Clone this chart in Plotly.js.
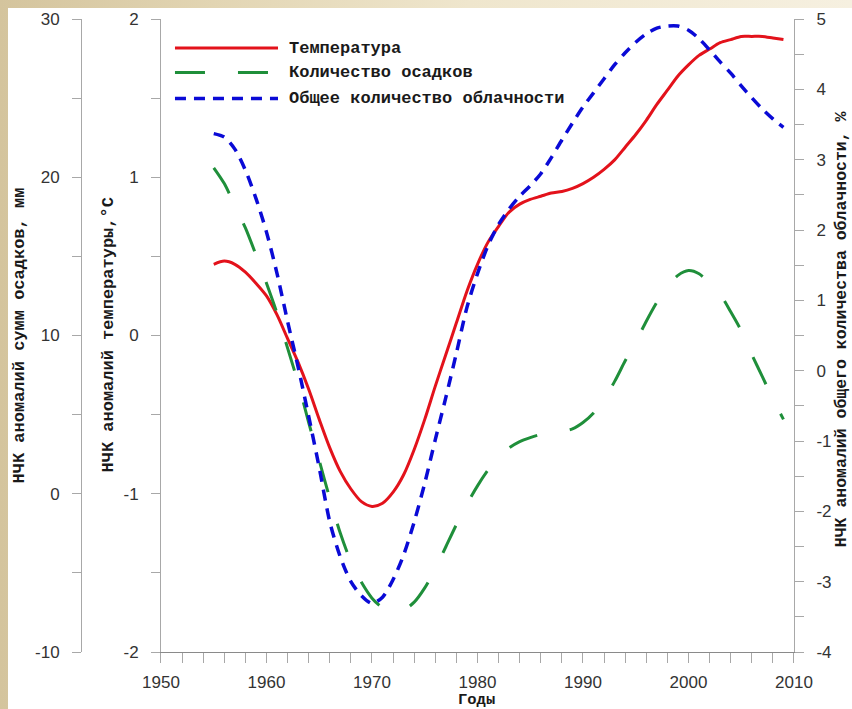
<!DOCTYPE html>
<html><head><meta charset="utf-8">
<script src="https://cdn.plot.ly/plotly-3.0.1.min.js"></script>
<style>
html,body{margin:0;padding:0;width:852px;height:709px;overflow:hidden;}
body{background:linear-gradient(to right,#d4c49d 0%,#e2d5b3 25%,#efe6cd 55%,#f6f0e0 100%);}
#chart{position:absolute;left:8px;top:8px;width:844px;height:701px;background:#fff;}
</style></head><body><div id="chart"></div>
<script>
const years = [1955,1956,1957,1958,1959,1960,1961,1962,1963,1964,1965,1966,1967,1968,1969,1970,1971,1972,1973,1974,1975,1976,1977,1978,1979,1980,1981,1982,1983,1984,1985,1986,1987,1988,1989,1990,1991,1992,1993,1994,1995,1996,1997,1998,1999,2000,2001,2002,2003,2004,2005,2006,2007,2008,2009];
const temperature = [0.45,0.47,0.45,0.40,0.33,0.25,0.13,-0.02,-0.17,-0.34,-0.53,-0.71,-0.86,-0.97,-1.05,-1.08,-1.06,-0.99,-0.88,-0.72,-0.53,-0.32,-0.12,0.08,0.28,0.45,0.59,0.69,0.78,0.83,0.86,0.88,0.90,0.91,0.93,0.96,1.00,1.05,1.11,1.19,1.27,1.36,1.46,1.55,1.64,1.71,1.77,1.81,1.85,1.87,1.89,1.89,1.89,1.88,1.87];
const precipitation = [20.6,19.6,18.2,16.8,15.1,13.3,11.4,9.2,7.0,4.5,2.1,-0.3,-2.5,-4.3,-5.6,-6.6,-7.2,-7.4,-7.35,-6.85,-5.95,-4.75,-3.35,-1.95,-0.65,0.5,1.5,2.3,2.9,3.3,3.55,3.75,3.85,3.95,4.1,4.5,5.1,6.0,7.1,8.4,9.6,10.9,12.1,13.1,13.8,14.1,13.9,13.3,12.6,11.5,10.3,8.8,7.4,6.0,4.7];
const cloudiness = [3.37,3.32,3.15,2.85,2.45,1.97,1.38,0.70,0.05,-0.65,-1.38,-2.15,-2.65,-3.0,-3.2,-3.31,-3.22,-2.97,-2.62,-2.15,-1.6,-0.98,-0.38,0.25,0.9,1.38,1.78,2.08,2.3,2.48,2.63,2.8,3.03,3.28,3.52,3.75,3.95,4.15,4.35,4.52,4.67,4.79,4.87,4.9,4.9,4.84,4.72,4.56,4.39,4.23,4.05,3.88,3.72,3.58,3.46];
const seriesNames = ['Температура','Количество осадков','Общее количество облачности'];
const xTitle = 'Годы';
const yTitles = ['НЧК аномалий сумм осадков, мм','НЧК аномалий температуры,°C','НЧК аномалий общего количества облачности, %'];
const xTickVals = [1950,1960,1970,1980,1990,2000,2010];
const xTickText = ['1950','1960','1970','1980','1990','2000','2010'];
const tempTickVals = [-2,-1,0,1,2];
const tempTickText = ['-2','-1','0','1','2'];
const precTickVals = [-10,0,10,20,30];
const precTickText = ['-10','0','10','20','30'];
const cloudTickVals = [-4,-3,-2,-1,0,1,2,3,4,5];
const cloudTickText = ['-4','-3','-2','-1','0','1','2','3','4','5'];

const RED='#e3121b', GREEN='#1f8f3a', BLUE='#0a0ad6';
const DASH_G='30px,33px', DASH_B='11px,8px';
const mono = {family:'"Liberation Mono","Courier New",monospace', size:17, color:'#1a1a1a', weight:'bold'};
const tickFont = {family:'"Liberation Sans",Arial,sans-serif', size:17, color:'#333'};
const axisCommon = {showgrid:false, zeroline:false, showline:true, linecolor:'#a8a8a8', linewidth:1,
  ticks:'outside', ticklen:9, tickcolor:'#a8a8a8', tickwidth:1, tickfont:tickFont, ticklabelstandoff:9, fixedrange:true};

const traces = [
  {x:years, y:precipitation, yaxis:'y2', mode:'lines', name:seriesNames[1], line:{color:GREEN, width:3, dash:DASH_G, shape:'spline', smoothing:0.8}},
  {x:years, y:cloudiness, yaxis:'y3', mode:'lines', name:seriesNames[2], line:{color:BLUE, width:3.5, dash:DASH_B, shape:'spline', smoothing:0.8}},
  {x:years, y:temperature, yaxis:'y', mode:'lines', name:seriesNames[0], line:{color:RED, width:3, shape:'spline', smoothing:0.8}}
];

const legY = [0.954, 0.9155, 0.8746];
const legX0 = 0.1318, legX1 = 0.2763, legTx = 0.2889;
const legStyles = [{color:RED,width:3,dash:'solid'},{color:GREEN,width:3,dash:DASH_G},{color:BLUE,width:3.5,dash:DASH_B}];
const shapes = legY.map((y,i)=>({type:'line', xref:'paper', yref:'paper', x0:legX0, x1:legX1, y0:y, y1:y, line:legStyles[i]}));
const annotations = legY.map((y,i)=>({xref:'paper', yref:'paper', x:legTx, y:y, xanchor:'left', yanchor:'middle', text:seriesNames[i], showarrow:false, font:mono}));
annotations.push(
  {xref:'paper', yref:'paper', x:0.555, y:-0.076, text:xTitle, showarrow:false, xanchor:'center', yanchor:'middle', font:Object.assign({}, mono, {size:15.5})},
  {xref:'paper', yref:'paper', x:-0.0856, y:0.5, text:yTitles[0], textangle:-90, showarrow:false, xanchor:'center', yanchor:'middle', font:mono},
  {xref:'paper', yref:'paper', x:0.0379, y:0.5, text:yTitles[1], textangle:-90, showarrow:false, xanchor:'center', yanchor:'middle', font:mono},
  {xref:'paper', yref:'paper', x:1.066, y:0.51, text:yTitles[2], textangle:-90, showarrow:false, xanchor:'center', yanchor:'middle', font:Object.assign({}, mono, {size:16.5})}
);

const layout = {
  width:844, height:701,
  margin:{l:73, r:58, t:11, b:57},
  paper_bgcolor:'#ffffff', plot_bgcolor:'#ffffff',
  showlegend:false,
  xaxis:Object.assign({}, axisCommon, {domain:[0.1122,1], range:[1950,2010], tickmode:'array', tickvals:xTickVals, ticktext:xTickText, ticklen:10, linecolor:'#8a8a8a',
    minor:{tickmode:'linear', tick0:1950, dtick:2, ticks:'outside', ticklen:10, tickcolor:'#a8a8a8', showgrid:false}, ticklabelstandoff:5}),
  yaxis:Object.assign({}, axisCommon, {range:[-2,2], tickmode:'array', tickvals:tempTickVals, ticktext:tempTickText, anchor:'x', side:'left',
    minor:{tickmode:'linear', tick0:0, dtick:0.5, ticks:'outside', ticklen:9, tickcolor:'#a8a8a8', showgrid:false}}),
  yaxis2:Object.assign({}, axisCommon, {range:[-10,30], tickmode:'array', tickvals:precTickVals, ticktext:precTickText, overlaying:'y', anchor:'free', position:0, side:'left',
    minor:{tickmode:'linear', tick0:0, dtick:5, ticks:'outside', ticklen:9, tickcolor:'#a8a8a8', showgrid:false}}),
  yaxis3:Object.assign({}, axisCommon, {range:[-4,5], tickmode:'array', tickvals:cloudTickVals, ticktext:cloudTickText, overlaying:'y', anchor:'x', side:'right',
    minor:{tickmode:'linear', tick0:0, dtick:0.5, ticks:'outside', ticklen:9, tickcolor:'#a8a8a8', showgrid:false}}),
  shapes:shapes,
  annotations:annotations
};
Plotly.newPlot('chart', traces, layout, {displayModeBar:false, staticPlot:true});
</script></body></html>
